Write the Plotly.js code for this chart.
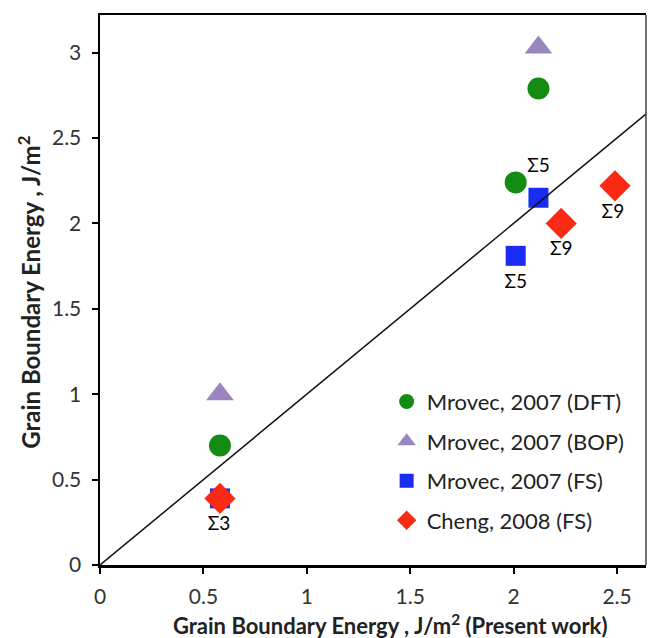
<!DOCTYPE html>
<html>
<head>
<meta charset="utf-8">
<script src="https://cdn.plot.ly/plotly-3.0.1.min.js"></script>
<style>html,body{margin:0;padding:0;background:#fff}#chart{width:648px;height:638px}</style>
</head>
<body>
<div id="chart"></div>
<script>
// Data
const dftX = [0.58, 2.01, 2.12];
const dftY = [0.70, 2.24, 2.79];
const bopX = [0.58, 2.12];
const bopY = [1.00, 3.03];
const fsX = [0.58, 2.01, 2.12];
const fsY = [0.39, 1.81, 2.15];
const chengX = [0.58, 2.23, 2.49];
const chengY = [0.39, 2.00, 2.22];
const lineX = [0, 2.7];
const lineY = [0, 2.7];
const labelText = ['Σ3', 'Σ5', 'Σ5', 'Σ9', 'Σ9'];
const labelX = [0.575, 2.12, 2.01, 2.23, 2.48];
const labelY = [0.235, 2.33, 1.65, 1.84, 2.06];
const seriesNames = ['Mrovec, 2007 (DFT)', 'Mrovec, 2007 (BOP)', 'Mrovec, 2007 (FS)', 'Cheng, 2008 (FS)'];
const xTicks = [0, 0.5, 1, 1.5, 2, 2.5];
const yTicks = [0, 0.5, 1, 1.5, 2, 2.5, 3];
const xTitle = '<b>Grain Boundary Energy , J/m<sup>2</sup> (Present work)</b>';
const yTitle = '<b>Grain Boundary Energy , J/m<sup>2</sup></b>';

const FONT = 'Lato, "Open Sans", sans-serif';
const symbols = ['circle', 'triangle-up', 'square', 'diamond'];
const colors = ['#148c14', '#9a86bf', '#1a2cf2', '#fa2a14'];
const sizes = [22, 24, 20, 24];
const legendSizes = [15, 16, 14, 15];
const xs = [dftX, bopX, fsX, chengX];
const ys = [dftY, bopY, fsY, chengY];

const traces = [];
for (let i = 0; i < 4; i++) {
  traces.push({x: xs[i], y: ys[i], name: seriesNames[i], mode: 'markers', type: 'scatter',
    showlegend: false, marker: {symbol: symbols[i], size: sizes[i], color: colors[i]}});
}
traces.push({x: lineX, y: lineY, mode: 'lines', type: 'scatter', showlegend: false,
  line: {color: '#111', width: 1.5}, hoverinfo: 'skip'});
traces.push({x: labelX, y: labelY, text: labelText, mode: 'text', type: 'scatter', showlegend: false,
  textfont: {family: FONT, size: 19, color: '#000'}, hoverinfo: 'skip'});
// legend entries (smaller legend symbols, as in the reference)
for (let i = 0; i < 4; i++) {
  traces.push({x: [null], y: [null], name: seriesNames[i], mode: 'markers', type: 'scatter',
    legendgroup: 'g' + i, marker: {symbol: symbols[i], size: legendSizes[i], color: colors[i]}});
}

const layout = {
  width: 648, height: 638,
  margin: {l: 100, r: 2, t: 15, b: 73},
  paper_bgcolor: '#fff', plot_bgcolor: '#fff',
  showlegend: true,
  legend: {x: 0.525, y: 0.335, xanchor: 'left', yanchor: 'top', bgcolor: 'rgba(0,0,0,0)',
    font: {family: FONT, size: 22, color: '#222'}, tracegroupgap: 8, itemwidth: 30},
  xaxis: {
    range: [0, 2.64], tickvals: xTicks, ticktext: xTicks.map(String),
    showgrid: false, zeroline: false, showline: true, linecolor: '#000', linewidth: 2.5,
    mirror: true, ticks: 'outside', ticklen: 6, tickwidth: 2, tickcolor: '#000',
    ticklabelstandoff: 5,
    tickfont: {family: FONT, size: 21, color: '#333'}
  },
  yaxis: {
    range: [0, 3.22], tickvals: yTicks, ticktext: yTicks.map(String),
    showgrid: false, zeroline: false, showline: true, linecolor: '#000', linewidth: 2.5,
    ticks: 'outside', ticklen: 6, tickwidth: 2, tickcolor: '#000',
    ticklabelstandoff: 6,
    tickfont: {family: FONT, size: 21, color: '#333'}
  },
  annotations: [
    {text: xTitle, xref: 'paper', yref: 'paper', x: 0.531, y: -0.109, xanchor: 'center', yanchor: 'middle',
     showarrow: false, font: {family: FONT, size: 22, color: '#222'}},
    {text: yTitle, xref: 'paper', yref: 'paper', x: -0.13, y: 0.495, xanchor: 'center', yanchor: 'middle',
     textangle: -90, showarrow: false, font: {family: FONT, size: 24, color: '#222'}}
  ],
  shapes: [
    {type: 'line', xref: 'paper', yref: 'paper', x0: 1, x1: 1, y0: 0, y1: 1,
     line: {color: '#444', width: 1.5}}
  ]
};

Plotly.newPlot('chart', traces, layout, {displayModeBar: false, staticPlot: true});
</script>
</body>
</html>
